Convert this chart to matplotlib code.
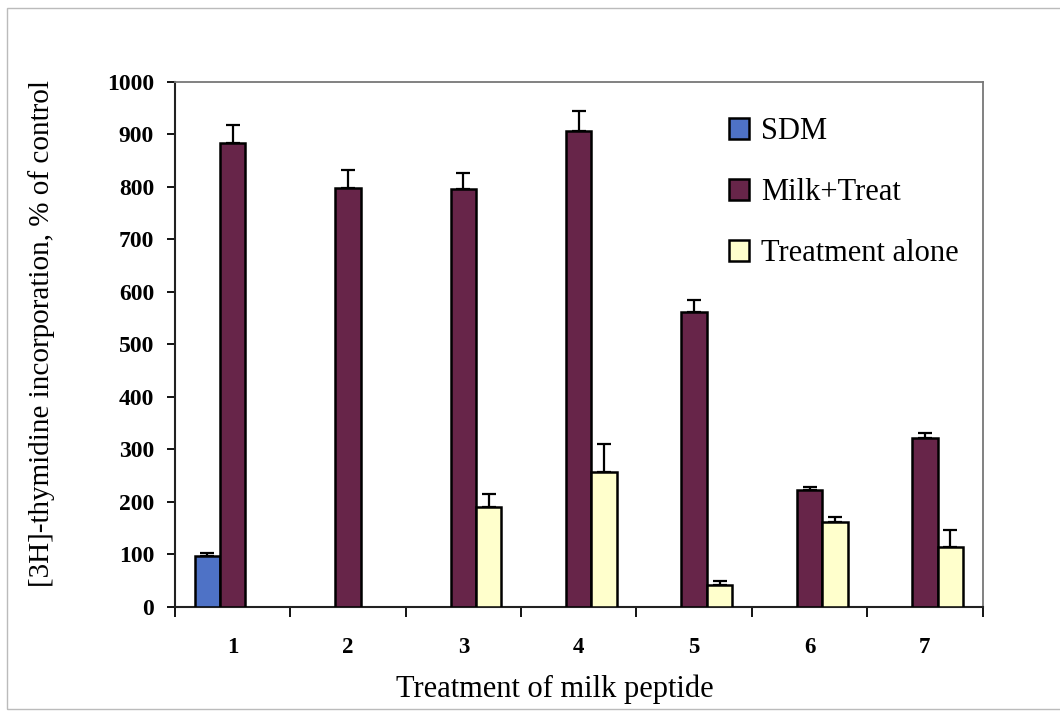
import numpy as np
import matplotlib.pyplot as plt
from matplotlib.patches import Rectangle

# values
groups = ['1', '2', '3', '4', '5', '6', '7']
sdm = [97, np.nan, np.nan, np.nan, np.nan, np.nan, np.nan]
sdm_err = [6, 0, 0, 0, 0, 0, 0]
milk = [884, 798, 796, 906, 562, 223, 321]
milk_err = [34, 34, 30, 38, 23, 6, 11]
treat = [np.nan, np.nan, 191, 257, 42, 161, 113]
treat_err = [0, 0, 24, 54, 8, 11, 33]

plt.rcParams['font.family'] = 'Liberation Serif'

fig = plt.figure(figsize=(10.6, 7.13), dpi=100)
ax = fig.add_axes([0.165, 0.149, 0.762, 0.736])

x = np.arange(1, len(groups) + 1)
w = 0.22
ekw = dict(elinewidth=1.6, capthick=1.6, ecolor='black')

for off, vals, errs, col, lab in [(-w, sdm, sdm_err, '#4e72c6', 'SDM'),
                                  (0, milk, milk_err, '#672549', 'Milk+Treat'),
                                  (w, treat, treat_err, '#ffffcc', 'Treatment alone')]:
    vals = np.array(vals, dtype=float)
    errs = np.array(errs, dtype=float)
    lower = np.zeros_like(errs)
    ax.bar(x + off, vals, w, color=col, edgecolor='black', linewidth=1.8,
           label=lab, zorder=3)
    ok = ~np.isnan(vals)
    ax.errorbar(x[ok] + off, vals[ok], yerr=[lower[ok], errs[ok]], fmt='none',
                capsize=5, zorder=2, **ekw)

ax.set_xlim(0.5, 7.5)
ax.set_ylim(0, 1000)
ax.set_yticks(np.arange(0, 1001, 100))
ax.set_xticks(np.arange(0.5, 7.6, 1))
ax.set_xticklabels([])
ax.set_xticks(x, minor=True)
ax.set_xticklabels(groups, minor=True)
ax.tick_params(axis='x', which='major', direction='out', length=7, width=1.3)
ax.tick_params(axis='x', which='minor', length=0, pad=22, labelsize=16.5)
ax.tick_params(axis='y', direction='out', length=6, width=1.3, labelsize=17, pad=9)
for t in ax.get_yticklabels() + ax.get_xticklabels(minor=True):
    t.set_fontweight('bold')

for s in ['left', 'bottom']:
    ax.spines[s].set_linewidth(1.5)
    ax.spines[s].set_color('#222222')
for s in ['top', 'right']:
    ax.spines[s].set_linewidth(1.3)
    ax.spines[s].set_color('#777777')

ax.set_ylabel('[3H]-thymidine incorporation, % of control', fontsize=21)
ax.yaxis.set_label_coords(-0.148, 0.52)
ax.set_xlabel('Treatment of milk peptide', fontsize=22)
ax.xaxis.set_label_coords(0.47, -0.13)

leg = ax.legend(loc='upper left', bbox_to_anchor=(0.686, 0.933), frameon=False,
                fontsize=22, handlelength=0.65, handleheight=0.7,
                handletextpad=0.4, labelspacing=1.05, borderaxespad=0, borderpad=0)

# thin grey frame around the whole picture
fig.patches.append(Rectangle((0.007, 0.006), 1.1, 0.983, transform=fig.transFigure,
                             fill=False, edgecolor='#bbbbbb', linewidth=1.0))

fig.savefig('out.png', dpi=100)
